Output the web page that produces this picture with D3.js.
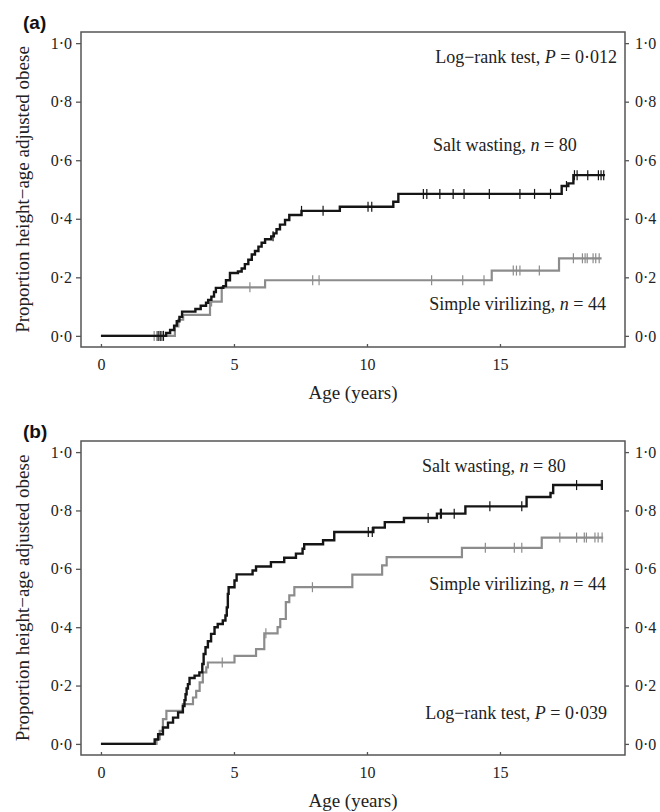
<!DOCTYPE html>
<html>
<head>
<meta charset="utf-8">
<script src="https://cdn.jsdelivr.net/npm/d3@7"></script>
<style>
  body { margin: 0; background: #fff; }
  svg { display: block; }
  .serif { font-family: "Liberation Serif", "Times New Roman", serif; fill: #222; }
</style>
</head>
<body>
<div id="chart"></div>
<script>
// --- DATA ---
// step curves: [age, cumulative proportion after this age]
const saltA = [[0,0],[2.45,0.01],[2.6,0.02],[2.75,0.035],[2.85,0.05],[2.95,0.065],[3.05,0.083],[3.55,0.092],
  [3.75,0.103],[3.95,0.113],[4.03,0.123],[4.15,0.134],[4.25,0.15],[4.32,0.164],[4.6,0.17],[4.7,0.19],
  [4.85,0.215],[5.15,0.22],[5.29,0.23],[5.41,0.245],[5.54,0.26],[5.67,0.278],[5.79,0.29],[5.92,0.305],
  [6.04,0.318],[6.17,0.33],[6.4,0.34],[6.5,0.35],[6.6,0.364],[6.73,0.38],[6.92,0.396],[7.08,0.413],
  [7.54,0.427],[8.98,0.441],[10.99,0.458],[11.18,0.485],[17.32,0.512],[17.57,0.521],[17.76,0.549],[18.95,0.549]];
const saltACensor = [2.15,2.25,2.35,6.47,7.54,8.35,10.04,10.18,12.12,12.25,12.74,13.24,13.65,14.6,15.75,
  16.3,16.9,17.5,17.8,17.9,18.3,18.7,18.8,18.9];

const simpleA = [[0,0],[2.78,0.032],[2.91,0.055],[3.09,0.072],[4.1,0.117],[4.54,0.166],[6.17,0.19],
  [14.69,0.223],[17.22,0.265],[18.82,0.265]];
const simpleACensor = [2.0,2.1,2.2,2.3,4.16,5.6,7.96,8.2,12.43,13.6,14.4,15.5,15.62,15.75,16.48,
  17.76,18.1,18.2,18.28,18.5,18.6,18.73];

const saltB = [[0,0],[2.02,0.015],[2.15,0.033],[2.33,0.056],[2.52,0.073],[2.71,0.09],[2.9,0.108],[3.08,0.13],
  [3.14,0.15],[3.18,0.17],[3.22,0.19],[3.27,0.205],[3.33,0.226],[3.52,0.234],[3.7,0.245],[3.81,0.274],
  [3.86,0.308],[3.93,0.331],[4.02,0.352],[4.14,0.377],[4.27,0.4],[4.39,0.411],[4.58,0.423],[4.68,0.44],
  [4.73,0.468],[4.77,0.514],[4.8,0.537],[5.02,0.56],[5.1,0.581],[5.7,0.594],[5.83,0.608],[6.39,0.623],
  [6.89,0.638],[7.33,0.652],[7.58,0.669],[7.64,0.684],[8.35,0.698],[8.77,0.726],[10.24,0.741],[10.67,0.76],
  [11.39,0.774],[12.63,0.789],[13.7,0.814],[16.0,0.846],[16.9,0.86],[17.0,0.887],[18.85,0.887]];
const saltBCensor = [10.05,10.2,12.3,12.76,12.8,13.28,14.62,15.82,17.88,18.81,18.85];

const simpleB = [[0,0],[2.09,0.016],[2.21,0.045],[2.33,0.085],[2.46,0.113],[3.08,0.136],[3.46,0.159],
  [3.58,0.182],[3.71,0.211],[3.83,0.245],[3.96,0.262],[4.02,0.279],[5.02,0.302],[5.83,0.325],[6.14,0.379],
  [6.64,0.4],[6.74,0.428],[6.95,0.486],[7.08,0.509],[7.27,0.537],[9.45,0.58],[10.57,0.612],[10.74,0.64],
  [13.57,0.672],[16.57,0.707],[18.88,0.707]];
const simpleBCensor = [4.56,6.2,7.95,14.45,15.54,15.82,17.25,17.88,18.17,18.25,18.57,18.69,18.84];

const xTicks = [0, 5, 10, 15];
const yTicks = [0, 0.2, 0.4, 0.6, 0.8, 1.0];

// --- SETUP ---
const W = 660, H = 812;
const svg = d3.select("#chart").append("svg")
    .attr("width", W)
    .attr("height", H);

const BLACK = "#151515";
const GREY = "#8c8c8c";
const AXIS = "#555";

const fmt = d => d3.format(".1f")(d).replace(".", "\u00b7");

function drawPanel(cfg) {
    const x = d3.scaleLinear().domain([-0.75, 19.7]).range([81, 625]);
    const y = d3.scaleLinear().domain([-0.038, 1.038]).range([cfg.bottom, cfg.top]);
    const g = svg.append("g");

    // box
    g.append("rect")
        .attr("x", 81).attr("y", cfg.top)
        .attr("width", 625 - 81).attr("height", cfg.bottom - cfg.top)
        .attr("fill", "none").attr("stroke", AXIS).attr("stroke-width", 1.5);

    // left axis
    const left = g.append("g").attr("transform", "translate(81,0)")
        .call(d3.axisLeft(y).tickValues(yTicks).tickFormat(fmt).tickSize(5).tickPadding(4));
    // right axis
    const right = g.append("g").attr("transform", "translate(625,0)")
        .call(d3.axisRight(y).tickValues(yTicks).tickFormat(fmt).tickSize(4).tickPadding(6));
    // bottom axis (ticks inside)
    const bottom = g.append("g").attr("transform", `translate(0,${cfg.bottom})`)
        .call(d3.axisBottom(x).tickValues(xTicks).tickSize(-3).tickPadding(12));

    [left, right, bottom].forEach(a => {
        a.select(".domain").remove();
        a.selectAll(".tick line").attr("stroke", AXIS).attr("stroke-width", 1.3);
        a.selectAll(".tick text").attr("class", "serif").style("font-size", "16px");
    });

    // axis titles
    g.append("text").attr("class", "serif")
        .attr("x", 353).attr("y", cfg.bottom + 52)
        .attr("text-anchor", "middle")
        .style("font-size", "19px")
        .text("Age (years)");

    g.append("text").attr("class", "serif")
        .attr("transform", `translate(22,${(cfg.top + cfg.bottom) / 2}) rotate(-90)`)
        .attr("text-anchor", "middle")
        .attr("dy", "0.35em")
        .style("font-size", "19px")
        .text("Proportion height\u2212age adjusted obese");

    // panel letter
    svg.append("text")
        .attr("x", 23).attr("y", cfg.top - 3)
        .style("font-family", "'Liberation Sans', Arial, sans-serif")
        .style("font-weight", "bold")
        .style("font-size", "19px")
        .attr("fill", "#111")
        .text(cfg.letter);

    const line = d3.line()
        .x(d => x(d[0]))
        .y(d => y(d[1]))
        .curve(d3.curveStepAfter);

    // level at a given age (for censor marks)
    const levelAt = (steps, t) => {
        let v = 0;
        steps.forEach(s => { if (s[0] <= t) v = s[1]; });
        return v;
    };

    cfg.series.forEach(s => {
        g.append("path")
            .datum(s.steps)
            .attr("d", line)
            .attr("fill", "none")
            .attr("stroke", s.color)
            .attr("stroke-width", s.width);

        g.selectAll(null)
            .data(s.censor)
            .enter().append("line")
            .attr("x1", d => x(d)).attr("x2", d => x(d))
            .attr("y1", d => y(levelAt(s.steps, d)) - 5)
            .attr("y2", d => y(levelAt(s.steps, d)) + 5)
            .attr("stroke", s.color)
            .attr("stroke-width", 1.2);
    });

    // annotations
    cfg.notes.forEach(n => {
        const t = g.append("text").attr("class", "serif")
            .attr("x", n.x).attr("y", n.y)
            .attr("text-anchor", n.anchor)
            .style("font-size", "18px");
        n.parts.forEach(p => {
            t.append("tspan").style("font-style", p.i ? "italic" : "normal").text(p.t);
        });
    });
}

drawPanel({
    letter: "(a)", top: 32, bottom: 347,
    series: [
        { steps: simpleA, censor: simpleACensor, color: GREY, width: 2.2 },
        { steps: saltA, censor: saltACensor, color: BLACK, width: 2.4 }
    ],
    notes: [
        { x: 617, y: 63, anchor: "end", parts: [{t: "Log\u2212rank test, "}, {t: "P", i: true}, {t: " = 0\u00b7012"}] },
        { x: 433, y: 151, anchor: "start", parts: [{t: "Salt wasting, "}, {t: "n", i: true}, {t: " = 80"}] },
        { x: 606, y: 310, anchor: "end", parts: [{t: "Simple virilizing, "}, {t: "n", i: true}, {t: " = 44"}] }
    ]
});

drawPanel({
    letter: "(b)", top: 441, bottom: 755,
    series: [
        { steps: simpleB, censor: simpleBCensor, color: GREY, width: 2.2 },
        { steps: saltB, censor: saltBCensor, color: BLACK, width: 2.4 }
    ],
    notes: [
        { x: 422, y: 472, anchor: "start", parts: [{t: "Salt wasting, "}, {t: "n", i: true}, {t: " = 80"}] },
        { x: 606, y: 590, anchor: "end", parts: [{t: "Simple virilizing, "}, {t: "n", i: true}, {t: " = 44"}] },
        { x: 607, y: 719, anchor: "end", parts: [{t: "Log\u2212rank test, "}, {t: "P", i: true}, {t: " = 0\u00b7039"}] }
    ]
});
</script>
</body>
</html>
